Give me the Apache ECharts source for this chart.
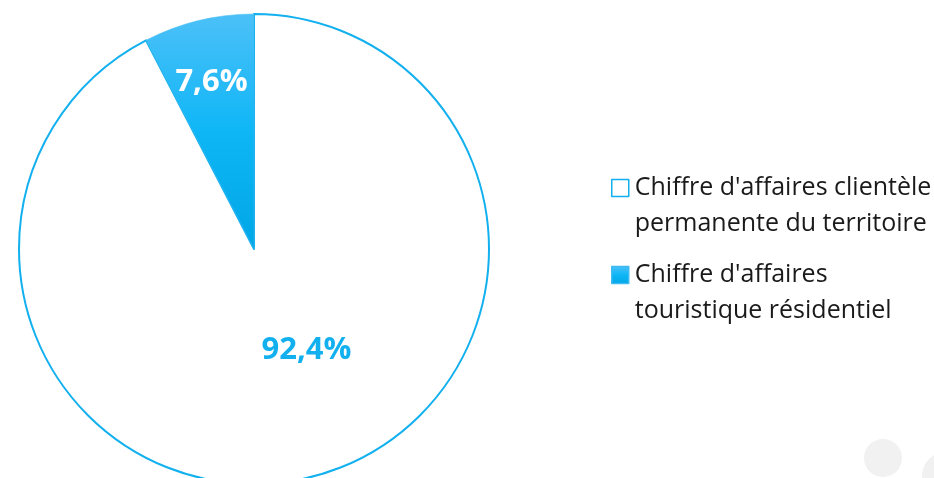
<!DOCTYPE html>
<html>
<head>
<meta charset="utf-8">
<script src="https://cdn.jsdelivr.net/npm/echarts@6/dist/echarts.min.js"></script>
<style>
  html, body { margin: 0; padding: 0; background: #ffffff; }
  #chart { width: 934px; height: 478px; }
</style>
</head>
<body>
<div id="chart"></div>
<script>
// Répartition du chiffre d'affaires (en %)
const categories = [
  "Chiffre d'affaires clientèle permanente du territoire",
  "Chiffre d'affaires touristique résidentiel"
];
const legendLines = [
  ["Chiffre d'affaires clientèle", "permanente du territoire"],
  ["Chiffre d'affaires", "touristique résidentiel"]
];
const values = [92.4, 7.6];

const blue = '#12b0ef';
const fmt = v => v.toFixed(1).replace('.', ',') + '%';

const chart = echarts.init(document.getElementById('chart'));

chart.setOption({
  backgroundColor: '#ffffff',
  animation: false,
  legend: {
    orient: 'vertical',
    left: 611,
    top: 134,
    padding: 0,
    itemWidth: 17,
    itemHeight: 17,
    itemGap: -21,
    icon: 'rect',
    selectedMode: false,
    // a leading blank line keeps the first text line level with the icon
    formatter: name => '\n' + legendLines[categories.indexOf(name)].join('\n'),
    textStyle: {
      fontFamily: 'Open Sans',
      fontSize: 25,
      color: '#1a1a1a',
      lineHeight: 36,
      padding: [0, 0, 0, 1]
    },
    itemStyle: { borderWidth: 1.5 }
  },
  graphic: [
    { type: 'circle', shape: { cx: 883, cy: 458, r: 19 }, style: { fill: '#f1f1f1' }, silent: true },
    { type: 'circle', shape: { cx: 946, cy: 476, r: 24 }, style: { fill: '#f1f1f1' }, silent: true }
  ],
  series: [{
    type: 'pie',
    center: [254, 249],
    radius: 235,
    startAngle: 90,
    clockwise: true,
    label: {
      show: true,
      position: 'inside',
      fontFamily: 'Open Sans',
      fontWeight: 'bold',
      fontSize: 31,
      formatter: p => fmt(p.value)
    },
    labelLine: { show: false },
    emphasis: { disabled: true },
    data: [
      {
        name: categories[0],
        value: values[0],
        itemStyle: { color: '#ffffff', borderColor: blue, borderWidth: 2 },
        label: { color: blue, offset: [24, -16] }
      },
      {
        name: categories[1],
        value: values[1],
        itemStyle: {
          color: new echarts.graphic.LinearGradient(0, 0, 0, 1, [
            { offset: 0, color: '#4cc0f8' },
            { offset: 0.5, color: '#0fb6f6' },
            { offset: 1, color: '#00a6e6' }
          ]),
          borderColor: '#3fbaf2',
          borderWidth: 0.5
        },
        label: { color: '#ffffff', offset: [-14, -50] }
      }
    ]
  }]
});
</script>
</body>
</html>
